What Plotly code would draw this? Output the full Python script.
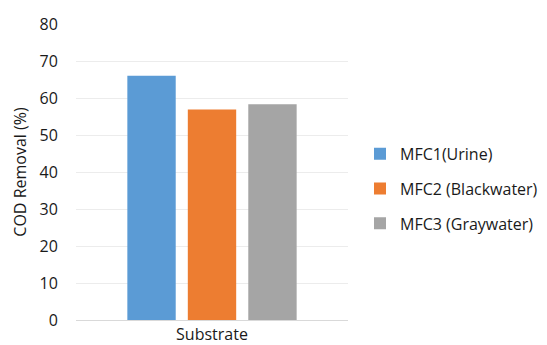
import plotly.graph_objects as go

categories = ["Substrate"]
series_names = ["MFC1(Urine)", "MFC2 (Blackwater)", "MFC3 (Graywater)"]
cod_removal = [66.0, 56.9, 58.3]
colors = ["#5b9bd5", "#ed7d31", "#a5a5a5"]
y_ticks = [0, 10, 20, 30, 40, 50, 60, 70, 80]

FONT = "Open Sans"
TXT = "#1a1a1a"

W, H = 547, 345
L, R, T, B = 76, 0, 24, 25
plot_w = W - L - R
x_end = 272 / plot_w  # plot area ends at x=348 px

fig = go.Figure()
for name, val, col in zip(series_names, cod_removal, colors):
    fig.add_trace(go.Bar(x=categories, y=[val], name=name, marker_color=col,
                         marker_line_width=0, legendgroup=name))

fig.update_layout(
    width=W, height=H,
    margin=dict(l=L, r=R, t=T, b=B),
    paper_bgcolor="white", plot_bgcolor="white",
    barmode="group", bargap=0.333, bargroupgap=0.2,
    font=dict(family=FONT, size=16, color=TXT),
    legend=dict(x=(360 - L) / plot_w, y=0.443, xanchor="left", yanchor="middle",
                font=dict(family=FONT, size=16, color=TXT),
                itemwidth=30, tracegroupgap=11, bgcolor="rgba(0,0,0,0)",
                borderwidth=0),
    showlegend=True,
)
fig.update_yaxes(range=[0, 80], tickvals=y_ticks, showgrid=True,
                 gridcolor="#ececec", gridwidth=1, zeroline=False,
                 ticks="outside", ticklen=14, tickcolor="rgba(0,0,0,0)",
                 automargin=False,
                 title=dict(text="COD Removal (%)", standoff=8,
                            font=dict(family=FONT, size=16)),
                 tickfont=dict(family=FONT, size=16))
fig.update_xaxes(domain=[0, x_end], showline=True, linecolor="#d9d9d9",
                 linewidth=1, ticks="", automargin=False,
                 tickfont=dict(family=FONT, size=16))

fig.write_html("out.html")
